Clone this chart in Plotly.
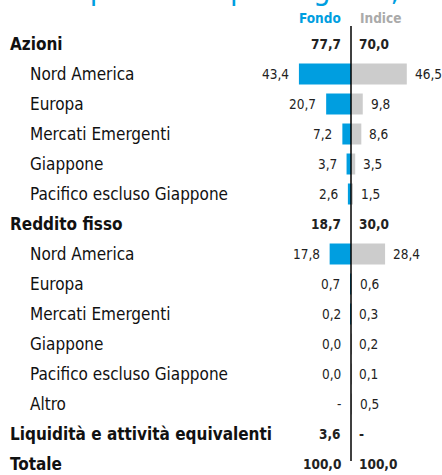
import plotly.graph_objects as go

categories = ["Azioni", "Nord America", "Europa", "Mercati Emergenti", "Giappone",
              "Pacifico escluso Giappone", "Reddito fisso", "Nord America", "Europa",
              "Mercati Emergenti", "Giappone", "Pacifico escluso Giappone", "Altro",
              "Liquidità e attività equivalenti", "Totale"]
is_group = [True, False, False, False, False, False, True, False, False, False, False,
            False, False, True, True]
fondo = [77.7, 43.4, 20.7, 7.2, 3.7, 2.6, 18.7, 17.8, 0.7, 0.2, 0.0, 0.0, None, 3.6, 100.0]
indice = [70.0, 46.5, 9.8, 8.6, 3.5, 1.5, 30.0, 28.4, 0.6, 0.3, 0.2, 0.1, 0.5, None, 100.0]
series_names = ["Fondo", "Indice"]
title_text = "Composizione per regione, %"

BLUE = "#009ee0"
GREY = "#cccccc"
FONT = "DejaVu Sans Condensed, Liberation Sans Narrow, sans-serif"

W, H = 442, 475
ZERO_PX = 351
PX_PER_UNIT = 1.2
ROW0_PX = 44
ROW_PX = 30

rows = list(range(len(categories)))
bar_rows = [i for i in rows if not is_group[i]]

def fmt(v):
    return "-" if v is None else f"{v:.1f}".replace(".", ",")

fig = go.Figure()
fig.add_trace(go.Bar(
    y=bar_rows, x=[-(fondo[i] or 0) for i in bar_rows], orientation="h",
    marker=dict(color=BLUE, line=dict(width=0)), width=0.7, name=series_names[0],
    hoverinfo="skip"))
fig.add_trace(go.Bar(
    y=bar_rows, x=[(indice[i] or 0) for i in bar_rows], orientation="h",
    marker=dict(color=GREY, line=dict(width=0)), width=0.7, name=series_names[1],
    hoverinfo="skip"))

x_min = -ZERO_PX / PX_PER_UNIT
x_max = (W - ZERO_PX) / PX_PER_UNIT
y_top = -ROW0_PX / ROW_PX
y_bot = (H - ROW0_PX) / ROW_PX

ann = []
for i in rows:
    grp = is_group[i]
    ann.append(dict(
        x=8 / W if grp else 28 / W, xref="paper", y=i, yref="y",
        text=f"<b>{categories[i]}</b>" if grp else categories[i],
        xanchor="left", yanchor="middle", showarrow=False,
        font=dict(family=FONT, size=17, color="#111111")))
    fv, iv = fondo[i], indice[i]
    fx = -(fv or 0) if not grp else 0
    ix = (iv or 0) if not grp else 0
    ftxt = f"<b>{fmt(fv)}</b>" if grp else fmt(fv)
    itxt = f"<b>{fmt(iv)}</b>" if grp else fmt(iv)
    ann.append(dict(x=fx, xref="x", y=i, yref="y", text=ftxt, xanchor="right",
                    yanchor="middle", showarrow=False, xshift=-8,
                    font=dict(family=FONT, size=13.5, color="#222222")))
    ann.append(dict(x=ix, xref="x", y=i, yref="y", text=itxt, xanchor="left",
                    yanchor="middle", showarrow=False, xshift=6,
                    font=dict(family=FONT, size=13.5, color="#222222")))

hy = (18 - ROW0_PX) / ROW_PX
ann.append(dict(x=0, xref="x", y=hy, yref="y", text=f"<b>{series_names[0]}</b>",
                xanchor="right", yanchor="middle", showarrow=False, xshift=-8,
                font=dict(family=FONT, size=13.5, color=BLUE)))
ann.append(dict(x=0, xref="x", y=hy, yref="y", text=f"<b>{series_names[1]}</b>",
                xanchor="left", yanchor="middle", showarrow=False, xshift=7,
                font=dict(family=FONT, size=13.5, color="#aaaaaa")))
ann.append(dict(x=24 / W, xref="paper", y=1, yref="paper", yshift=-9,
                text=title_text, xanchor="left", yanchor="bottom", showarrow=False,
                font=dict(family=FONT, size=31, color=BLUE)))

shapes = [dict(type="line", xref="x", yref="y", x0=0, x1=0,
               y0=(26 - ROW0_PX) / ROW_PX, y1=(461 - ROW0_PX) / ROW_PX,
               line=dict(color="black", width=1.5))]

fig.update_layout(
    width=W, height=H, margin=dict(l=0, r=0, t=0, b=0),
    paper_bgcolor="white", plot_bgcolor="white", showlegend=False,
    barmode="overlay",
    xaxis=dict(range=[x_min, x_max], visible=False, fixedrange=True),
    yaxis=dict(range=[y_bot, y_top], visible=False, fixedrange=True),
    annotations=ann, shapes=shapes,
)
fig.write_html("out.html", config={"displayModeBar": False},
               post_script="document.body.style.margin='0';document.body.style.overflow='hidden';")
